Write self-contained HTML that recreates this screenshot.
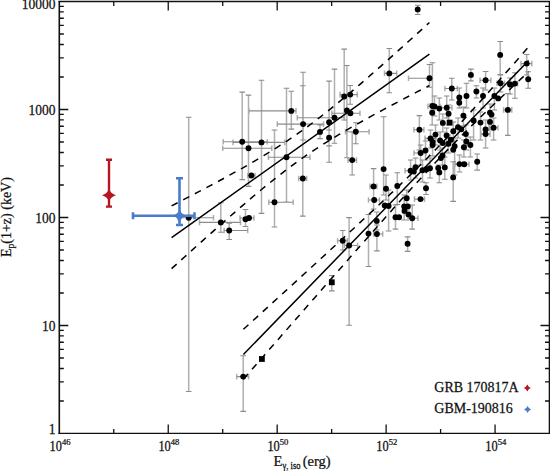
<!DOCTYPE html>
<html><head><meta charset="utf-8"><style>
html,body{margin:0;padding:0;background:#fff;width:550px;height:471px;overflow:hidden}
svg{display:block}
text{font-family:"Liberation Serif",serif;fill:#111;stroke:#111;stroke-width:0.25px}
</style></head><body>
<svg width="550" height="471" viewBox="0 0 550 471">
<path d="M223.2 139.0V144.6M267.3 139.0V144.6M242.2 92.1V179.6M233.0 139.6V145.2M284.7 139.6V145.2M261.5 80.3V213.4M222.7 145.4V151.0M271.8 145.4V151.0M248.5 95.1V186.4M247.7 172.7V178.3M255.0 172.7V178.3M268.8 199.4V205.0M293.2 199.4V205.0M274.5 130.0V227.0M268.4 154.4V160.0M310.0 154.4V160.0M286.5 88.2V202.1M199.5 219.6V225.2M240.5 219.6V225.2M220.8 202.7V232.3M224.1 227.7V233.3M247.7 227.7V233.3M229.2 223.2V239.5M245.5 209.5V226.5M240.0 215.2V220.8M254.0 215.2V220.8M178.0 214.9V220.5M213.5 214.9V220.5M188.7 117.3V391.5M236.7 373.8V379.4M248.6 373.8V379.4M243.2 355.7V411.4M249.0 108.1V113.7M296.0 108.1V113.7M291.3 91.3V129.1M277.3 121.3V126.9M323.6 121.3V126.9M303.1 72.2V140.0M298.7 175.7V181.3M306.7 175.7V181.3M302.8 85.8V216.1M320.0 125.0V138.6M329.1 81.1V162.3M297.3 114.9V120.5M344.5 114.9V120.5M334.5 69.1V143.2M329.1 130.0V145.9M344.2 49.1V120.0M340.0 91.8V97.4M357.3 91.8V97.4M350.2 85.5V104.2M346.9 65.5V157.7M331.8 110.4V116.0M360.0 110.4V116.0M345.5 128.9V134.5M369.1 128.9V134.5M355.8 122.7V143.7M348.0 157.3V162.9M356.5 157.3V162.9M352.2 132.0V175.0M384.5 70.6V76.2M396.7 70.6V76.2M389.3 48.5V92.7M408.5 75.4V81.0M432.0 75.4V81.0M429.5 64.5V87.3M432.4 62.7V110.0M417.7 5.2V14.5M383.6 116.8V195.0M370.0 183.6V189.2M376.9 183.6V189.2M373.6 168.6V209.0M368.5 197.2V202.8M379.5 197.2V202.8M386.0 175.0V200.0M388.6 190.0V231.0M376.7 212.0V230.0M368.5 214.5V266.5M373.6 231.2V236.8M382.7 231.2V236.8M376.9 225.0V250.9M337.6 237.9V243.5M347.3 237.9V243.5M342.7 230.5V250.0M344.5 242.7V248.3M357.6 242.7V248.3M349.1 217.6V325.2M331.8 275.5V290.9M397.3 172.7V204.5M395.5 205.0V229.1M404.2 195.0V220.0M406.7 190.0V210.0M408.0 215.4V221.0M418.0 215.4V221.0M412.2 205.0V229.1M414.5 196.3V201.9M424.5 196.3V201.9M426.0 182.7V194.5M407.6 236.9V251.4M453.2 161.7V201.4M439.3 165.0V182.7M405.0 167.9V173.5M415.0 167.9V173.5M410.6 160.0V180.0M415.5 158.0V178.0M422.5 160.0V182.0M430.0 158.0V178.0M444.8 157.0V179.3M455.0 161.3V166.9M463.0 161.3V166.9M459.5 155.0V172.0M469.0 161.4V167.0M477.2 154.0V170.1M414.0 150.2V155.8M426.0 150.2V155.8M420.6 145.0V165.0M425.5 141.0V160.0M442.5 148.0V165.0M413.9 127.0V132.6M423.9 127.0V132.6M419.4 115.6V150.0M428.0 103.6V109.2M440.0 103.6V109.2M434.5 96.0V116.0M439.3 98.0V120.0M432.2 104.0V125.0M441.0 104.9V110.5M452.0 104.9V110.5M446.7 96.0V118.0M448.6 105.0V125.0M459.3 88.0V108.0M466.5 83.3V108.0M463.4 107.0V126.0M442.8 114.0V132.0M458.0 118.0V138.0M453.3 122.0V142.0M465.8 125.0V145.0M435.5 125.0V145.0M446.6 128.0V146.0M425.0 135.6V141.2M436.0 135.6V141.2M430.5 130.0V148.0M432.6 138.0V156.0M440.1 132.0V150.0M448.4 135.0V153.0M454.6 138.0V175.0M466.4 133.0V150.0M463.9 140.0V157.0M444.9 85.7V91.3M457.3 85.7V91.3M451.8 78.2V100.0M470.9 69.1V80.9M500.2 41.5V74.5M480.0 77.4V83.0M490.9 77.4V83.0M485.6 71.5V90.0M476.4 85.8V98.0M483.0 88.0V108.0M494.4 88.0V110.0M497.0 80.5V86.1M504.5 80.5V86.1M500.5 75.0V92.0M510.0 78.0V94.0M511.0 80.8V86.4M517.6 80.8V86.4M514.9 72.7V98.2M521.0 60.8V66.4M531.8 60.8V66.4M526.7 54.5V75.0M528.2 71.8V88.2M503.6 107.1V112.7M511.8 107.1V112.7M507.8 93.6V135.4M490.0 104.0V122.0M473.6 110.0V140.0M480.5 112.0V140.0M490.0 114.0V130.0M489.0 124.9V130.5M498.0 124.9V130.5M493.6 118.0V140.0M485.6 120.0V148.0M481.0 131.3V136.9M490.0 131.3V136.9M470.4 137.0V157.0" stroke="#b0b0b0" stroke-width="1.5" fill="none"/>
<path d="M223.2 141.8H267.3M239.4 92.1H245.0M239.4 179.6H245.0M233.0 142.4H284.7M258.7 80.3H264.3M258.7 213.4H264.3M222.7 148.2H271.8M245.7 95.1H251.3M245.7 186.4H251.3M247.7 175.5H255.0M268.8 202.2H293.2M271.7 130.0H277.3M271.7 227.0H277.3M268.4 157.2H310.0M283.7 88.2H289.3M283.7 202.1H289.3M199.5 222.4H240.5M218.0 202.7H223.6M218.0 232.3H223.6M224.1 230.5H247.7M226.4 223.2H232.0M226.4 239.5H232.0M242.7 209.5H248.3M242.7 226.5H248.3M240.0 218.0H254.0M178.0 217.7H213.5M185.9 117.3H191.5M185.9 391.5H191.5M236.7 376.6H248.6M240.4 355.7H246.0M240.4 411.4H246.0M249.0 110.9H296.0M288.5 91.3H294.1M288.5 129.1H294.1M277.3 124.1H323.6M300.3 72.2H305.9M300.3 140.0H305.9M298.7 178.5H306.7M300.0 85.8H305.6M300.0 216.1H305.6M317.2 125.0H322.8M317.2 138.6H322.8M326.3 81.1H331.9M326.3 162.3H331.9M297.3 117.7H344.5M331.7 69.1H337.3M331.7 143.2H337.3M326.3 130.0H331.9M326.3 145.9H331.9M341.4 49.1H347.0M341.4 120.0H347.0M340.0 94.6H357.3M347.4 85.5H353.0M347.4 104.2H353.0M344.1 65.5H349.7M344.1 157.7H349.7M331.8 113.2H360.0M345.5 131.7H369.1M353.0 122.7H358.6M353.0 143.7H358.6M348.0 160.1H356.5M349.4 132.0H355.0M349.4 175.0H355.0M384.5 73.4H396.7M386.5 48.5H392.1M386.5 92.7H392.1M408.5 78.2H432.0M426.7 64.5H432.3M426.7 87.3H432.3M429.6 62.7H435.2M429.6 110.0H435.2M414.9 5.2H420.5M414.9 14.5H420.5M380.8 116.8H386.4M380.8 195.0H386.4M370.0 186.4H376.9M370.8 168.6H376.4M370.8 209.0H376.4M368.5 200.0H379.5M383.2 175.0H388.8M383.2 200.0H388.8M385.8 190.0H391.4M385.8 231.0H391.4M373.9 212.0H379.5M373.9 230.0H379.5M365.7 214.5H371.3M365.7 266.5H371.3M373.6 234.0H382.7M374.1 225.0H379.7M374.1 250.9H379.7M337.6 240.7H347.3M339.9 230.5H345.5M339.9 250.0H345.5M344.5 245.5H357.6M346.3 217.6H351.9M346.3 325.2H351.9M329.0 275.5H334.6M329.0 290.9H334.6M394.5 172.7H400.1M394.5 204.5H400.1M392.7 205.0H398.3M392.7 229.1H398.3M401.4 195.0H407.0M401.4 220.0H407.0M403.9 190.0H409.5M403.9 210.0H409.5M408.0 218.2H418.0M409.4 205.0H415.0M409.4 229.1H415.0M414.5 199.1H424.5M423.2 182.7H428.8M423.2 194.5H428.8M404.8 236.9H410.4M404.8 251.4H410.4M450.4 161.7H456.0M450.4 201.4H456.0M436.5 165.0H442.1M436.5 182.7H442.1M405.0 170.7H415.0M407.8 160.0H413.4M407.8 180.0H413.4M412.7 158.0H418.3M412.7 178.0H418.3M419.7 160.0H425.3M419.7 182.0H425.3M427.2 158.0H432.8M427.2 178.0H432.8M442.0 157.0H447.6M442.0 179.3H447.6M455.0 164.1H463.0M456.7 155.0H462.3M456.7 172.0H462.3M464.3 164.2H469.0M474.4 154.0H480.0M474.4 170.1H480.0M414.0 153.0H426.0M417.8 145.0H423.4M417.8 165.0H423.4M422.7 141.0H428.3M422.7 160.0H428.3M439.7 148.0H445.3M439.7 165.0H445.3M413.9 129.8H423.9M416.6 115.6H422.2M416.6 150.0H422.2M428.0 106.4H440.0M431.7 96.0H437.3M431.7 116.0H437.3M436.5 98.0H442.1M436.5 120.0H442.1M429.4 104.0H435.0M429.4 125.0H435.0M441.0 107.7H452.0M443.9 96.0H449.5M443.9 118.0H449.5M445.8 105.0H451.4M445.8 125.0H451.4M456.5 88.0H462.1M456.5 108.0H462.1M463.7 83.3H469.3M463.7 108.0H469.3M460.6 107.0H466.2M460.6 126.0H466.2M440.0 114.0H445.6M440.0 132.0H445.6M455.2 118.0H460.8M455.2 138.0H460.8M450.5 122.0H456.1M450.5 142.0H456.1M463.0 125.0H468.6M463.0 145.0H468.6M432.7 125.0H438.3M432.7 145.0H438.3M443.8 128.0H449.4M443.8 146.0H449.4M425.0 138.4H436.0M427.7 130.0H433.3M427.7 148.0H433.3M429.8 138.0H435.4M429.8 156.0H435.4M437.3 132.0H442.9M437.3 150.0H442.9M445.6 135.0H451.2M445.6 153.0H451.2M451.8 138.0H457.4M451.8 175.0H457.4M463.6 133.0H469.2M463.6 150.0H469.2M461.1 140.0H466.7M461.1 157.0H466.7M444.9 88.5H457.3M449.0 78.2H454.6M449.0 100.0H454.6M468.1 69.1H473.7M468.1 80.9H473.7M497.4 41.5H503.0M497.4 74.5H503.0M480.0 80.2H490.9M482.8 71.5H488.4M482.8 90.0H488.4M473.6 85.8H479.2M473.6 98.0H479.2M480.2 88.0H485.8M480.2 108.0H485.8M491.6 88.0H497.2M491.6 110.0H497.2M497.0 83.3H504.5M497.7 75.0H503.3M497.7 92.0H503.3M507.2 78.0H512.8M507.2 94.0H512.8M511.0 83.6H517.6M512.1 72.7H517.7M512.1 98.2H517.7M521.0 63.6H531.8M523.9 54.5H529.5M523.9 75.0H529.5M525.4 71.8H531.0M525.4 88.2H531.0M503.6 109.9H511.8M505.0 93.6H510.6M505.0 135.4H510.6M487.2 104.0H492.8M487.2 122.0H492.8M470.8 110.0H476.4M470.8 140.0H476.4M477.7 112.0H483.3M477.7 140.0H483.3M487.2 114.0H492.8M487.2 130.0H492.8M489.0 127.7H498.0M490.8 118.0H496.4M490.8 140.0H496.4M482.8 120.0H488.4M482.8 148.0H488.4M481.0 134.1H490.0M467.6 137.0H473.2M467.6 157.0H473.2" stroke="#8c8c8c" stroke-width="1.1" fill="none"/>
<path d="M171.6 237.70L429.4 54.20M243.4 354.50L528.6 60.60" stroke="#000" stroke-width="1.5" fill="none"/>
<path d="M171.60,205.86L178.04,202.53L184.49,199.19L190.94,195.84L197.38,192.46L203.82,189.06L210.27,185.64L216.71,182.20L223.16,178.72L229.60,175.20L236.05,171.64L242.49,168.03L248.94,164.36L255.38,160.63L261.83,156.81L268.27,152.91L274.72,148.91L281.16,144.80L287.61,140.56L294.05,136.20L300.50,131.69L306.94,127.04L313.39,122.26L319.83,117.34L326.28,112.29L332.72,107.14L339.17,101.88L345.61,96.53L352.06,91.10L358.50,85.60L364.95,80.04L371.39,74.44L377.84,68.78L384.28,63.09L390.73,57.37L397.17,51.62L403.62,45.85L410.06,40.05L416.51,34.24L422.95,28.40L429.40,22.56" stroke="#000" stroke-width="1.5" fill="none" stroke-dasharray="6.8,6.3"/>
<path d="M171.60,268.68L178.04,262.84L184.49,257.00L190.94,251.19L197.38,245.39L203.82,239.62L210.27,233.86L216.71,228.14L223.16,222.44L229.60,216.78L236.05,211.17L242.49,205.60L248.94,200.09L255.38,194.65L261.83,189.29L268.27,184.02L274.72,178.86L281.16,173.81L287.61,168.89L294.05,164.10L300.50,159.46L306.94,154.97L313.39,150.61L319.83,146.40L326.28,142.31L332.72,138.33L339.17,134.45L345.61,130.66L352.06,126.94L358.50,123.29L364.95,119.70L371.39,116.15L377.84,112.65L384.28,109.18L390.73,105.73L397.17,102.32L403.62,98.93L410.06,95.56L416.51,92.20L422.95,88.86L429.40,85.53" stroke="#000" stroke-width="1.5" fill="none" stroke-dasharray="6.8,6.3"/>
<path d="M243.40,329.30L250.53,322.82L257.66,316.33L264.79,309.84L271.92,303.35L279.05,296.85L286.18,290.35L293.31,283.85L300.44,277.34L307.57,270.82L314.70,264.29L321.83,257.76L328.96,251.22L336.09,244.66L343.22,238.10L350.35,231.51L357.48,224.91L364.61,218.28L371.74,211.63L378.87,204.95L386.00,198.22L393.13,191.45L400.26,184.62L407.39,177.72L414.52,170.73L421.65,163.65L428.78,156.47L435.91,149.17L443.04,141.75L450.17,134.22L457.30,126.59L464.43,118.87L471.56,111.06L478.69,103.19L485.82,95.25L492.95,87.28L500.08,79.26L507.21,71.21L514.34,63.14L521.47,55.04L528.60,46.93" stroke="#000" stroke-width="1.5" fill="none" stroke-dasharray="6.8,6.3"/>
<path d="M243.40,379.19L250.53,371.02L257.66,362.86L264.79,354.70L271.92,346.55L279.05,338.39L286.18,330.24L293.31,322.09L300.44,313.95L307.57,305.81L314.70,297.67L321.83,289.54L328.96,281.41L336.09,273.29L343.22,265.18L350.35,257.08L357.48,248.99L364.61,240.91L371.74,232.85L378.87,224.81L386.00,216.80L393.13,208.81L400.26,200.86L407.39,192.96L414.52,185.11L421.65,177.33L428.78,169.64L435.91,162.05L443.04,154.57L450.17,147.21L457.30,139.97L464.43,132.85L471.56,125.83L478.69,118.89L485.82,112.03L492.95,105.23L500.08,98.48L507.21,91.76L514.34,85.08L521.47,78.42L528.60,71.78" stroke="#000" stroke-width="1.5" fill="none" stroke-dasharray="6.8,6.3"/>
<g fill="#000"><circle cx="242.2" cy="141.8" r="2.95"/><circle cx="261.5" cy="142.4" r="2.95"/><circle cx="248.5" cy="148.2" r="2.95"/><circle cx="251.4" cy="175.5" r="2.95"/><circle cx="274.5" cy="202.2" r="2.95"/><circle cx="286.5" cy="157.2" r="2.95"/><circle cx="220.8" cy="222.4" r="2.95"/><circle cx="229.2" cy="230.5" r="2.95"/><circle cx="245.5" cy="219.2" r="2.95"/><circle cx="249.0" cy="218.0" r="2.95"/><circle cx="188.7" cy="217.7" r="2.95"/><circle cx="243.2" cy="376.6" r="2.95"/><rect x="259.0" y="356.1" width="5.8" height="5.8"/><circle cx="291.3" cy="110.9" r="2.95"/><circle cx="303.1" cy="124.1" r="2.95"/><circle cx="302.8" cy="178.5" r="2.95"/><circle cx="320.0" cy="131.9" r="2.95"/><circle cx="329.1" cy="122.3" r="2.95"/><circle cx="334.5" cy="117.7" r="2.95"/><circle cx="329.1" cy="137.7" r="2.95"/><circle cx="344.2" cy="96.5" r="2.95"/><circle cx="350.2" cy="94.6" r="2.95"/><circle cx="346.9" cy="110.5" r="2.95"/><circle cx="350.4" cy="113.2" r="2.95"/><circle cx="355.8" cy="131.7" r="2.95"/><circle cx="352.2" cy="160.1" r="2.95"/><circle cx="389.3" cy="73.4" r="2.95"/><circle cx="429.5" cy="78.2" r="2.95"/><circle cx="432.4" cy="106.0" r="2.95"/><circle cx="417.7" cy="9.4" r="2.95"/><circle cx="383.6" cy="169.1" r="2.95"/><circle cx="373.6" cy="186.4" r="2.95"/><circle cx="374.2" cy="200.0" r="2.95"/><circle cx="386.0" cy="188.7" r="2.95"/><circle cx="384.7" cy="205.5" r="2.95"/><circle cx="388.6" cy="206.0" r="2.95"/><circle cx="376.7" cy="220.9" r="2.95"/><circle cx="368.5" cy="233.6" r="2.95"/><circle cx="376.9" cy="234.0" r="2.95"/><circle cx="342.7" cy="240.7" r="2.95"/><circle cx="349.1" cy="245.5" r="2.95"/><rect x="328.9" y="279.4" width="5.8" height="5.8"/><circle cx="397.3" cy="186.0" r="2.95"/><circle cx="395.5" cy="217.3" r="2.95"/><circle cx="399.1" cy="217.3" r="2.95"/><circle cx="404.2" cy="206.4" r="2.95"/><circle cx="407.8" cy="206.4" r="2.95"/><circle cx="404.5" cy="210.9" r="2.95"/><circle cx="406.7" cy="198.2" r="2.95"/><circle cx="408.5" cy="214.5" r="2.95"/><circle cx="412.2" cy="218.2" r="2.95"/><circle cx="420.5" cy="199.1" r="2.95"/><circle cx="426.0" cy="188.2" r="2.95"/><circle cx="407.6" cy="243.7" r="2.95"/><circle cx="453.2" cy="177.4" r="2.95"/><circle cx="439.3" cy="172.4" r="2.95"/><circle cx="410.6" cy="170.7" r="2.95"/><circle cx="415.5" cy="167.3" r="2.95"/><circle cx="413.8" cy="171.5" r="2.95"/><circle cx="422.5" cy="170.2" r="2.95"/><circle cx="426.5" cy="169.3" r="2.95"/><circle cx="430.0" cy="168.2" r="2.95"/><circle cx="438.2" cy="168.0" r="2.95"/><circle cx="444.8" cy="167.4" r="2.95"/><circle cx="459.5" cy="164.1" r="2.95"/><circle cx="464.3" cy="164.2" r="2.95"/><circle cx="477.2" cy="161.8" r="2.95"/><circle cx="420.6" cy="153.0" r="2.95"/><circle cx="425.5" cy="150.5" r="2.95"/><circle cx="442.5" cy="155.5" r="2.95"/><circle cx="440.8" cy="158.1" r="2.95"/><circle cx="419.4" cy="129.8" r="2.95"/><circle cx="434.5" cy="106.4" r="2.95"/><circle cx="439.3" cy="108.6" r="2.95"/><circle cx="432.2" cy="112.7" r="2.95"/><circle cx="446.7" cy="107.7" r="2.95"/><circle cx="448.6" cy="113.8" r="2.95"/><circle cx="459.3" cy="97.5" r="2.95"/><circle cx="459.3" cy="102.8" r="2.95"/><circle cx="466.5" cy="96.0" r="2.95"/><circle cx="463.4" cy="115.6" r="2.95"/><circle cx="442.8" cy="122.9" r="2.95"/><rect x="446.7" y="119.7" width="5.8" height="5.8"/><circle cx="458.0" cy="127.1" r="2.95"/><circle cx="461.3" cy="129.3" r="2.95"/><circle cx="453.3" cy="131.3" r="2.95"/><circle cx="465.8" cy="134.1" r="2.95"/><circle cx="435.5" cy="134.6" r="2.95"/><circle cx="446.6" cy="135.5" r="2.95"/><circle cx="430.5" cy="138.4" r="2.95"/><circle cx="432.6" cy="142.0" r="2.95"/><circle cx="432.6" cy="145.0" r="2.95"/><circle cx="440.1" cy="140.4" r="2.95"/><circle cx="442.7" cy="143.0" r="2.95"/><circle cx="448.4" cy="143.8" r="2.95"/><circle cx="450.9" cy="139.8" r="2.95"/><circle cx="454.6" cy="146.3" r="2.95"/><circle cx="453.2" cy="149.7" r="2.95"/><circle cx="466.4" cy="141.4" r="2.95"/><circle cx="463.9" cy="147.2" r="2.95"/><circle cx="451.8" cy="88.5" r="2.95"/><circle cx="470.9" cy="74.9" r="2.95"/><circle cx="500.2" cy="54.9" r="2.95"/><circle cx="485.6" cy="80.2" r="2.95"/><circle cx="476.4" cy="91.5" r="2.95"/><circle cx="483.0" cy="96.0" r="2.95"/><circle cx="494.4" cy="96.0" r="2.95"/><circle cx="498.2" cy="98.4" r="2.95"/><circle cx="500.5" cy="83.3" r="2.95"/><circle cx="510.0" cy="84.5" r="2.95"/><circle cx="514.9" cy="83.6" r="2.95"/><circle cx="526.7" cy="63.6" r="2.95"/><circle cx="528.2" cy="79.3" r="2.95"/><circle cx="507.8" cy="109.9" r="2.95"/><circle cx="490.0" cy="112.6" r="2.95"/><circle cx="491.5" cy="114.6" r="2.95"/><circle cx="473.6" cy="120.5" r="2.95"/><circle cx="480.5" cy="122.6" r="2.95"/><circle cx="490.0" cy="121.9" r="2.95"/><circle cx="493.6" cy="127.7" r="2.95"/><circle cx="485.6" cy="129.5" r="2.95"/><circle cx="485.6" cy="134.1" r="2.95"/><circle cx="470.4" cy="145.0" r="2.95"/></g>
<path d="M109 159.7V206.6M106 159.7H112M106 206.6H112" stroke="#b5161f" stroke-width="2.4" fill="none"/>
<path d="M109.0 189.2Q111.0 193.5 116.0 195.2Q111.0 196.9 109.0 201.2Q107.0 196.9 102.0 195.2Q107.0 193.5 109.0 189.2Z" fill="#b5161f"/>
<path d="M179.5 178.3V225M176 178.3H183M176 225H183M133 215.8H194.5M133 212.3V219.3M194.5 212.3V219.3" stroke="#4a7ccb" stroke-width="2.6" fill="none"/>
<path d="M179.5 209.8Q181.5 214.1 186.5 215.8Q181.5 217.5 179.5 221.8Q177.5 217.5 172.5 215.8Q177.5 214.1 179.5 209.8Z" fill="#4a7ccb"/>
<path d="M113.77 433.4V428.9M113.77 1.5V6.0M168.24 433.4V424.4M168.24 1.5V10.5M222.71 433.4V428.9M222.71 1.5V6.0M277.18 433.4V424.4M277.18 1.5V10.5M331.65 433.4V428.9M331.65 1.5V6.0M386.12 433.4V424.4M386.12 1.5V10.5M440.59 433.4V428.9M440.59 1.5V6.0M495.06 433.4V424.4M495.06 1.5V10.5M59.3 400.99H63.8M549.5 400.99H545.0M59.3 381.97H63.8M549.5 381.97H545.0M59.3 368.48H63.8M549.5 368.48H545.0M59.3 358.01H63.8M549.5 358.01H545.0M59.3 349.46H63.8M549.5 349.46H545.0M59.3 342.23H63.8M549.5 342.23H545.0M59.3 335.97H63.8M549.5 335.97H545.0M59.3 330.44H63.8M549.5 330.44H545.0M59.3 325.50H68.3M549.5 325.50H540.5M59.3 292.99H63.8M549.5 292.99H545.0M59.3 273.97H63.8M549.5 273.97H545.0M59.3 260.48H63.8M549.5 260.48H545.0M59.3 250.01H63.8M549.5 250.01H545.0M59.3 241.46H63.8M549.5 241.46H545.0M59.3 234.23H63.8M549.5 234.23H545.0M59.3 227.97H63.8M549.5 227.97H545.0M59.3 222.44H63.8M549.5 222.44H545.0M59.3 217.50H68.3M549.5 217.50H540.5M59.3 184.99H63.8M549.5 184.99H545.0M59.3 165.97H63.8M549.5 165.97H545.0M59.3 152.48H63.8M549.5 152.48H545.0M59.3 142.01H63.8M549.5 142.01H545.0M59.3 133.46H63.8M549.5 133.46H545.0M59.3 126.23H63.8M549.5 126.23H545.0M59.3 119.97H63.8M549.5 119.97H545.0M59.3 114.44H63.8M549.5 114.44H545.0M59.3 109.50H68.3M549.5 109.50H540.5M59.3 76.99H63.8M549.5 76.99H545.0M59.3 57.97H63.8M549.5 57.97H545.0M59.3 44.48H63.8M549.5 44.48H545.0M59.3 34.01H63.8M549.5 34.01H545.0M59.3 25.46H63.8M549.5 25.46H545.0M59.3 18.23H63.8M549.5 18.23H545.0M59.3 11.97H63.8M549.5 11.97H545.0M59.3 6.44H63.8M549.5 6.44H545.0" stroke="#111" stroke-width="1.3" fill="none"/>
<path d="M59.3 0.9V434.0M549.5 0.9V434.0" stroke="#111" stroke-width="1.6" fill="none"/>
<path d="M58.5 1.5H550.3M58.5 433.4H550.3" stroke="#111" stroke-width="1.3" fill="none"/>
<text transform="translate(55.6,434.0) scale(1,1.14)" font-size="13.5" text-anchor="end">1</text>
<text transform="translate(55.6,330.7) scale(1,1.14)" font-size="13.5" text-anchor="end">10</text>
<text transform="translate(55.6,222.7) scale(1,1.14)" font-size="13.5" text-anchor="end">100</text>
<text transform="translate(55.6,114.7) scale(1,1.14)" font-size="13.5" text-anchor="end">1000</text>
<text transform="translate(55.6,9.3) scale(1,1.14)" font-size="13.5" text-anchor="end">10000</text>
<text transform="translate(49.5,450.6) scale(1,1.16)" font-size="12.4">10</text><text transform="translate(61.9,445.2) scale(1,0.93)" font-size="8.6">46</text>
<text transform="translate(158.4,450.6) scale(1,1.16)" font-size="12.4">10</text><text transform="translate(170.8,445.2) scale(1,0.93)" font-size="8.6">48</text>
<text transform="translate(267.4,450.6) scale(1,1.16)" font-size="12.4">10</text><text transform="translate(279.8,445.2) scale(1,0.93)" font-size="8.6">50</text>
<text transform="translate(376.3,450.6) scale(1,1.16)" font-size="12.4">10</text><text transform="translate(388.7,445.2) scale(1,0.93)" font-size="8.6">52</text>
<text transform="translate(485.3,450.6) scale(1,1.16)" font-size="12.4">10</text><text transform="translate(497.7,445.2) scale(1,0.93)" font-size="8.6">54</text>
<text transform="translate(273.6,466.3) scale(1,0.95)" font-size="14.5">E</text><text transform="translate(282.4,468.5) scale(1,1.1)" font-size="8.6">γ, iso</text><text transform="translate(302.8,466.3) scale(1,0.95)" font-size="14.5">(erg)</text>
<text transform="translate(11.2,257) rotate(-90)" font-size="14">E<tspan font-size="9.5" dy="3">p</tspan><tspan dy="-3">(1+z) (keV)</tspan></text>
<text transform="translate(434.3,392.2) scale(1,1.02)" font-size="14">GRB 170817A</text>
<text transform="translate(434.3,413.2) scale(1,1.02)" font-size="14">GBM-190816</text>
<path d="M527.3 384.6Q528.3 387.0 530.9 388.0Q528.3 389.0 527.3 391.4Q526.3 389.0 523.7 388.0Q526.3 387.0 527.3 384.6Z" fill="#b5161f"/>
<path d="M527.6 406.1Q528.6 408.5 531.2 409.5Q528.6 410.5 527.6 412.9Q526.6 410.5 524.0 409.5Q526.6 408.5 527.6 406.1Z" fill="#4a7ccb"/>
</svg></body></html>
